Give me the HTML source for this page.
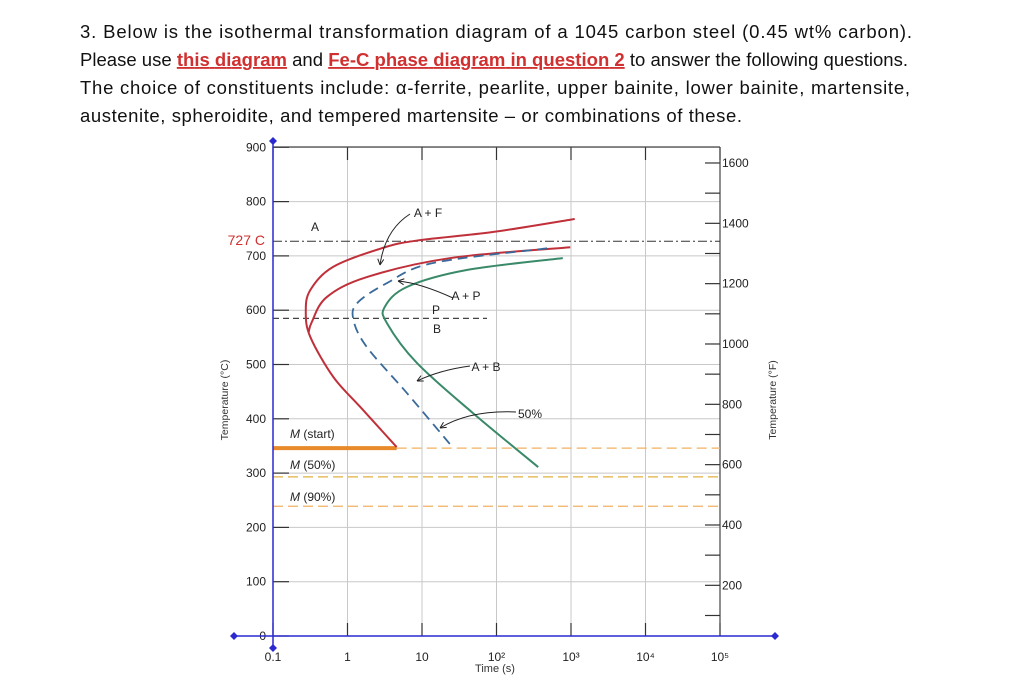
<!DOCTYPE html>
<html><head><meta charset="utf-8"><style>
html,body{margin:0;padding:0;background:#fff;}
svg{display:block;}
</style></head><body>
<svg id="root" width="1025" height="677" viewBox="0 0 1025 677" xmlns="http://www.w3.org/2000/svg" font-family="Liberation Sans, sans-serif">
<g font-size="18.5" fill="#111">
<text x="80" y="38" textLength="832" lengthAdjust="spacing">3. Below is the isothermal transformation diagram of a 1045 carbon steel (0.45 wt% carbon).</text>
<text x="80" y="66" textLength="828" lengthAdjust="spacing">Please use <tspan fill="#d03030" font-weight="bold" text-decoration="underline">this diagram</tspan> and <tspan fill="#d03030" font-weight="bold" text-decoration="underline">Fe-C phase diagram in question 2</tspan> to answer the following questions.</text>
<text x="80" y="94" textLength="830" lengthAdjust="spacing">The choice of constituents include: α-ferrite, pearlite, upper bainite, lower bainite, martensite,</text>
<text x="80" y="122" textLength="662" lengthAdjust="spacing">austenite, spheroidite, and tempered martensite – or combinations of these.</text>
</g>
<g id="chart"></g>
</svg>
<script>
// ---- data ----
const timeTicks = ["0.1","1","10","10²","10³","10⁴","10⁵"];
const tempTicksC = [0,100,200,300,400,500,600,700,800,900];
const tempTicksF = [200,400,600,800,1000,1200,1400,1600];
const eutectoidT = 727;
const pbBoundaryT = 585;
const msT = 346, m50T = 293, m90T = 239;
// curves: log10(time) and temperature (°C)
const startLogT = [3.05,1.95,0.97,0.48,-0.19,-0.50,-0.56,-0.50,-0.19,0.17,0.66];
const startTemp = [768,744,729,715,680,637,597,551,477,422,348];
const ferriteEndLogT = [2.99,1.38,0.26,-0.28,-0.48,-0.52];
const ferriteEndTemp = [716,696,661,624,578,560];
const halfLogT = [2.68,1.15,0.53,0.13,0.08,0.26,0.80,1.42];
const halfTemp = [714,687,650,613,582,532,447,346];
const finishLogT = [2.89,1.60,0.80,0.50,0.53,0.93,1.68,2.56];
const finishTemp = [696,674,643,606,576,503,411,311];

const NS="http://www.w3.org/2000/svg";
const g=document.getElementById('chart');
const X0=273, DEC=74.5, Y0=636, PER=0.543, TOP=147, RIGHT=720;
const xs=lt=>X0+(lt+1)*DEC;
const ys=t=>Y0-t*PER;
function el(tag,attrs,parent){const e=document.createElementNS(NS,tag);for(const k in attrs)e.setAttribute(k,attrs[k]);(parent||g).appendChild(e);return e;}
function txt(x,y,s,attrs){const e=el('text',Object.assign({x:x,y:y},attrs||{}));e.textContent=s;return e;}

// grid
tempTicksC.forEach((t,i)=>{
  const l=el('line',{x1:X0,x2:RIGHT,y1:ys(t),y2:ys(t),stroke:'#c8c8c8','stroke-width':1});
  
  
  el('line',{x1:X0,x2:X0+16,y1:ys(t),y2:ys(t),stroke:'#333','stroke-width':1.2});
  const lb=txt(266,ys(t)+4,String(t),{'font-size':12,fill:'#222','text-anchor':'end'});
  
  
});
timeTicks.forEach((s,i)=>{
  const x=xs(i-1);
  const l=el('line',{x1:x,x2:x,y1:TOP,y2:Y0,stroke:'#c8c8c8','stroke-width':1});
  
  
  el('line',{x1:x,x2:x,y1:TOP,y2:TOP+13,stroke:'#333','stroke-width':1.2});
  el('line',{x1:x,x2:x,y1:Y0-13,y2:Y0,stroke:'#333','stroke-width':1.2});
  const lb=txt(x,661,s,{'font-size':12,fill:'#222','text-anchor':'middle'});
  
  
});
// frame
el('line',{x1:X0,x2:RIGHT,y1:TOP,y2:TOP,stroke:'#444','stroke-width':1.2});
el('line',{x1:RIGHT,x2:RIGHT,y1:TOP,y2:Y0,stroke:'#444','stroke-width':1.2});
// right F axis
for(let f=100;f<=1600;f+=100){
  const y=ys((f-32)*5/9);
  el('line',{x1:RIGHT-15,x2:RIGHT,y1:y,y2:y,stroke:'#333','stroke-width':1.2});
}
tempTicksF.forEach(f=>{
  const lb=txt(722,ys((f-32)*5/9)+4,String(f),{'font-size':12,fill:'#222'});
  
  
});
// axis titles
let t1=txt(0,0,'Temperature (°C)',{'font-size':10.5,fill:'#333','text-anchor':'middle',transform:'translate(228,400) rotate(-90)'});

let t2=txt(0,0,'Temperature (°F)',{'font-size':10.5,fill:'#333','text-anchor':'middle',transform:'translate(776,400) rotate(-90)'});

let t3=txt(495,672,'Time (s)',{'font-size':11,fill:'#333','text-anchor':'middle'});


// reference lines
let r=el('line',{x1:X0,x2:RIGHT,y1:ys(eutectoidT),y2:ys(eutectoidT),stroke:'#333','stroke-width':1,'stroke-dasharray':'9 3 2 3'});

let e727=txt(265,245,'727 C',{'font-size':14,fill:'#d03030','text-anchor':'end'});

r=el('line',{x1:X0,x2:487,y1:ys(pbBoundaryT),y2:ys(pbBoundaryT),stroke:'#444','stroke-width':1.2,'stroke-dasharray':'6 4'});

r=el('line',{x1:X0,x2:xs(0.66),y1:ys(msT),y2:ys(msT),stroke:'#e8892a','stroke-width':4});

r=el('line',{x1:xs(0.66),x2:RIGHT,y1:ys(msT),y2:ys(msT),stroke:'#f0b060','stroke-width':1.2,'stroke-dasharray':'10 5'});

r=el('line',{x1:X0,x2:RIGHT,y1:ys(m50T),y2:ys(m50T),stroke:'#e0b040','stroke-width':1.2,'stroke-dasharray':'10 5'});

r=el('line',{x1:X0,x2:RIGHT,y1:ys(m90T),y2:ys(m90T),stroke:'#f0b060','stroke-width':1.2,'stroke-dasharray':'10 5'});


function smooth(lts,ts){
  const p=lts.map((l,i)=>[xs(l),ys(ts[i])]);
  let d='M'+p[0][0]+','+p[0][1];
  for(let i=0;i<p.length-1;i++){
    const a=p[i-1]||p[i],b=p[i],c=p[i+1],e=p[i+2]||c;
    d+=' C'+(b[0]+(c[0]-a[0])/6)+','+(b[1]+(c[1]-a[1])/6)+' '+(c[0]-(e[0]-b[0])/6)+','+(c[1]-(e[1]-b[1])/6)+' '+c[0]+','+c[1];
  }
  return d;
}
let c=el('path',{d:smooth(startLogT,startTemp),fill:'none',stroke:'#c0303a','stroke-width':2});

c=el('path',{d:smooth(ferriteEndLogT,ferriteEndTemp),fill:'none',stroke:'#c0303a','stroke-width':2});

c=el('path',{d:smooth(halfLogT,halfTemp),fill:'none',stroke:'#3a6a9a','stroke-width':1.8,'stroke-dasharray':'10 6'});

c=el('path',{d:smooth(finishLogT,finishTemp),fill:'none',stroke:'#3a8a6a','stroke-width':2});


// annotations
const ann=[['A',315,231,'region-a-label'],['A + F',428,217,'a-plus-f-label'],['A + P',466,300,'a-plus-p-label'],['P',436,314,'p-label'],['B',437,333,'b-label'],['A + B',486,371,'a-plus-b-label'],['50%',530,418,'fifty-percent-label']];
ann.forEach(a=>{const e=txt(a[1],a[2],a[0],{'font-size':12,fill:'#222','text-anchor':'middle'});
  });
const ml=[['start',438],['50%',469],['90%',501]];
ml.forEach(m=>{const e=txt(290,m[1],'',{'font-size':12,fill:'#222'});
  
  const a=document.createElementNS(NS,'tspan');a.setAttribute('font-style','italic');a.textContent='M';e.appendChild(a);
  e.appendChild(document.createTextNode(' ('+m[0]+')'));});
// arrows
const arrows=['M410,214 Q385,230 380,265','M453,298 Q420,283 398,281','M470,366 Q440,370 417,381','M516,412 Q470,410 440,428'];
arrows.forEach(d=>{const p=el('path',{d:d,fill:'none',stroke:'#222','stroke-width':1});
  });
function head(x,y,dx,dy){const L=Math.hypot(dx,dy),ux=dx/L,uy=dy/L,s=6;
  el('path',{d:`M${x},${y} L${x-ux*s-uy*3},${y-uy*s+ux*3} M${x},${y} L${x-ux*s+uy*3},${y-uy*s-ux*3}`,stroke:'#222','stroke-width':1,fill:'none'});}
head(380,265,-1,8);head(398,281,-8,-1);head(417,381,-8,4);head(440,428,-8,5);

// blue axes
const bl='#2a2ad0';
let ax=el('line',{x1:X0,x2:X0,y1:141,y2:648,stroke:bl,'stroke-width':1.5});

ax=el('line',{x1:234,x2:775,y1:Y0,y2:Y0,stroke:bl,'stroke-width':1.5});

[[X0,141],[234,Y0],[775,Y0],[X0,648]].forEach(p=>{
  const d=el('path',{d:`M${p[0]},${p[1]-4} L${p[0]+4},${p[1]} L${p[0]},${p[1]+4} L${p[0]-4},${p[1]} Z`,fill:bl});
  });
</script>
</body></html>
